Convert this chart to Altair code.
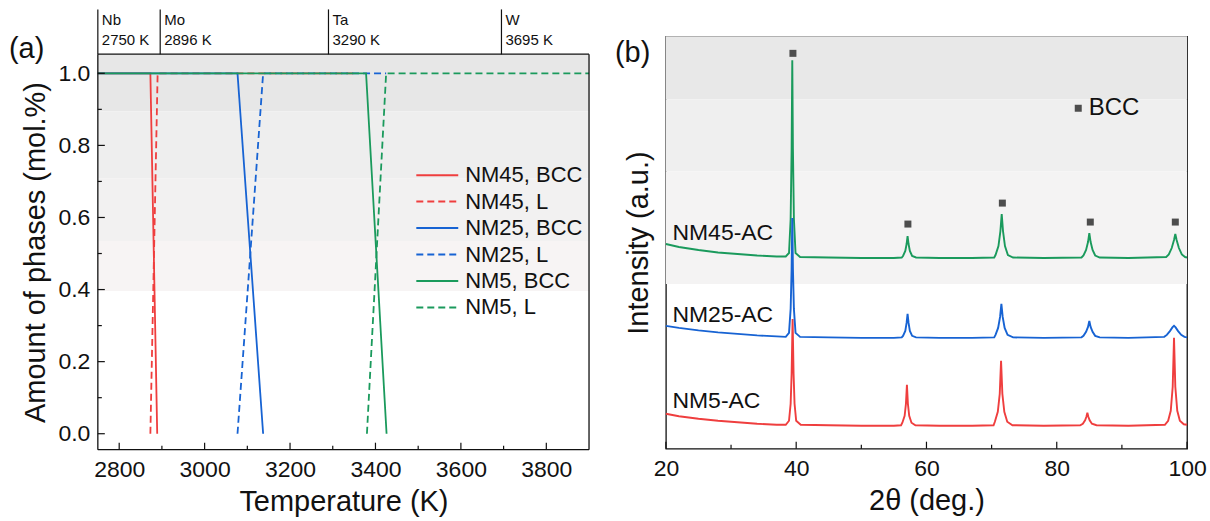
import altair as alt
import pandas as pd

FONT = "Liberation Sans"
BLACK = "#111111"

# ---------------- panel (a): phase fractions ----------------
series_a = ["NM45, BCC", "NM45, L", "NM25, BCC", "NM25, L", "NM5, BCC", "NM5, L"]
colors_a = ["#ef3e3e", "#ef3e3e", "#1763d3", "#1763d3", "#1a9a5c", "#1a9a5c"]
dashes_a = [[1, 0], [7, 4], [1, 0], [7, 4], [1, 0], [7, 4]]

T_nm45_bcc = [2750, 2873, 2889]
P_nm45_bcc = [1.0, 1.0, 0.0]
T_nm45_l = [2873, 2890, 3350]
P_nm45_l = [0.0, 1.0, 1.0]
T_nm25_bcc = [2750, 3077, 3137]
P_nm25_bcc = [1.0, 1.0, 0.0]
T_nm25_l = [3077, 3137, 3425]
P_nm25_l = [0.0, 1.0, 1.0]
T_nm5_bcc = [2750, 3378, 3426]
P_nm5_bcc = [1.0, 1.0, 0.0]
T_nm5_l = [3380, 3425, 3900]
P_nm5_l = [0.0, 1.0, 1.0]

elements = ["Nb", "Mo", "Ta", "W"]
melting_K = [2750, 2896, 3290, 3695]

a_x_major = [2800, 3000, 3200, 3400, 3600, 3800]
a_x_minor = [2900, 3100, 3300, 3500, 3700]
a_y_major = [0.0, 0.2, 0.4, 0.6, 0.8, 1.0]
a_y_minor = [0.1, 0.3, 0.5, 0.7, 0.9]

a_band_top = [1.053, 0.895, 0.709, 0.535]
a_band_bottom = [0.895, 0.709, 0.535, 0.396]
a_band_color = ["#e7e7e7", "#eeeeee", "#f2f1f1", "#f7f4f4"]

# ---------------- panel (b): XRD patterns ----------------
samples_b = ["NM5-AC", "NM45-AC", "NM25-AC"]  # drawing order
colors_b = {"NM45-AC": "#1a9a5c", "NM25-AC": "#1763d3", "NM5-AC": "#ef3e3e"}

theta_nm45 = [20.0, 22.0, 25.0, 28.0, 31.0, 34.0, 37.0, 38.4,
              38.9, 39.15, 39.3, 39.4, 39.5, 39.65, 39.9, 40.6,
              45.0, 50.0, 55.0, 56.2,
              56.4, 56.75, 56.95, 57.1, 57.25, 57.45, 57.8, 58.4,
              62.0, 67.0, 70.4,
              70.6, 71.05, 71.35, 71.55, 71.75, 72.05, 72.5, 73.3,
              78.0, 83.8,
              84.1, 84.5, 84.8, 85.0, 85.2, 85.5, 85.9, 86.6,
              91.0, 96.8,
              97.2, 97.65, 98.0, 98.2, 98.4, 98.75, 99.2, 99.7, 100.0]
int_nm45 = [205, 202, 199, 196.5, 195, 193.5, 192.5, 192.5,
            196, 230, 300, 389, 300, 230, 196, 192,
            191.5, 191, 191, 191.5,
            193, 198, 205, 213, 205, 198, 193, 191.5,
            191, 191, 191.5,
            194, 203, 218, 235, 218, 203, 194, 191.5,
            191, 191.5,
            193.5, 199, 207, 216, 207, 199, 193.5, 191.5,
            191, 192,
            194.5, 201, 209, 215, 209, 201, 194.5, 192, 191.5]

theta_nm25 = [20.0, 22.0, 25.0, 28.0, 31.0, 34.0, 37.0, 38.4,
              38.9, 39.15, 39.3, 39.4, 39.5, 39.65, 39.9, 40.6,
              45.0, 50.0, 55.0, 56.2,
              56.4, 56.75, 56.95, 57.1, 57.25, 57.45, 57.8, 58.4,
              62.0, 67.0, 70.4,
              70.6, 71.0, 71.3, 71.5, 71.7, 72.0, 72.45, 73.3,
              78.0, 83.8,
              84.1, 84.5, 84.8, 85.0, 85.2, 85.5, 85.9, 86.6,
              91.0, 96.5,
              96.9, 97.4, 97.75, 98.0, 98.25, 98.6, 99.1, 99.6, 100.0]
int_nm25 = [123, 121, 118.5, 116.5, 115, 113.5, 112.5, 112,
            116, 140, 180, 231, 180, 140, 116, 112,
            111.5, 111, 111, 111.5,
            113, 118, 126, 135, 126, 118, 113, 111.5,
            111, 111, 111.5,
            114, 121, 132, 145, 132, 121, 114, 111.5,
            111, 111.5,
            113, 117, 122, 128, 122, 117, 113, 111.5,
            111, 112,
            114, 118, 121.5, 123, 121.5, 118, 114, 112, 111.5]

theta_nm5 = [20.0, 22.0, 25.0, 28.0, 31.0, 34.0, 37.0, 38.4,
             38.9, 39.15, 39.3, 39.45, 39.6, 39.75, 40.0, 40.7,
             45.0, 50.0, 55.0, 56.1,
             56.3, 56.65, 56.85, 57.0, 57.15, 57.35, 57.7, 58.3,
             62.0, 67.0, 70.3,
             70.5, 70.95, 71.25, 71.45, 71.65, 71.95, 72.4, 73.2,
             78.0, 83.6,
             84.0, 84.35, 84.55, 84.7, 84.85, 85.05, 85.4, 86.1,
             91.0, 96.6,
             97.1, 97.5, 97.8, 98.0, 98.2, 98.5, 98.9, 99.5, 100.0]
int_nm5 = [35, 32.5, 30, 28, 26.5, 25, 24, 24,
           28, 45, 75, 130, 75, 45, 28, 24,
           23.5, 23, 23, 23.5,
           26, 33, 45, 64, 45, 33, 26, 23.5,
           23, 23, 23.5,
           27, 37, 55, 88, 55, 37, 27, 23.5,
           23, 23.5,
           25, 28.5, 32, 36, 32, 28.5, 25, 23.5,
           23, 24,
           28, 38, 62, 111, 62, 38, 28, 24.5, 24]

bcc_theta = [39.5, 57.15, 71.65, 85.15, 98.2]
bcc_int = [396, 225, 246, 227, 227]

label_names = ["NM45-AC", "NM25-AC", "NM5-AC"]
label_theta = [21.0, 21.0, 21.0]
label_int = [216, 134, 48]

key_theta = [83.3]
key_int = [341]
key_text_theta = [84.9]
key_text = ["BCC"]

b_x_major = [20, 40, 60, 80, 100]
b_x_minor = [30, 50, 70, 90]

b_band_top = [413, 350, 278]
b_band_bottom = [350, 278, 165]
b_band_color = ["#e8e8e8", "#efefef", "#f4f3f3"]

# ---------------- layout sizes ----------------
W_A, H_A = 492, 414
W_B, H_B = 522, 413
A_DOMAIN_Y = [-0.0443, 1.1025]
A_FRAME_TOP = 1.053
MAJ, MIN = 7, 4

# ======== build panel (a) ========
rows = []
for name, T, P in zip(series_a,
                      [T_nm45_bcc, T_nm45_l, T_nm25_bcc, T_nm25_l, T_nm5_bcc, T_nm5_l],
                      [P_nm45_bcc, P_nm45_l, P_nm25_bcc, P_nm25_l, P_nm5_bcc, P_nm5_l]):
    for t, p in zip(T, P):
        rows.append({"series": name, "T": t, "P": p})
df_a = pd.DataFrame(rows)

xs_a = alt.Scale(domain=[2750, 3900], nice=False, zero=False)
ys_a = alt.Scale(domain=A_DOMAIN_Y, nice=False, zero=False)

axis_ax = alt.Axis(values=a_x_major, format="d", title="Temperature (K)", ticks=False, domain=False,
                   grid=False, labelFontSize=23, labelPadding=9, titleFontSize=29, titlePadding=6,
                   labelFlush=False)
axis_ay = alt.Axis(values=a_y_major, format=".1f", title="Amount of phases (mol.%)", ticks=False,
                   domain=False, grid=False, labelFontSize=23, labelPadding=8, titleFontSize=29,
                   titlePadding=7, titleY=216)

leg = alt.Legend(orient="none", legendX=318, legendY=128, title=None, labelFontSize=22,
                 labelFont=FONT, labelColor=BLACK, symbolType="stroke", symbolSize=1764,
                 symbolStrokeWidth=2, labelOffset=6, rowPadding=4.5, padding=0, labelLimit=300,
                 clipHeight=22)


def XA(f):
    return alt.X(f, scale=xs_a, axis=axis_ax)


def YA(f):
    return alt.Y(f, scale=ys_a, axis=axis_ay)


bands_a = pd.DataFrame({"bx": 2750, "bx2": 3900, "by": a_band_bottom, "by2": a_band_top, "c": a_band_color})
band_layer_a = alt.Chart(bands_a).mark_rect().encode(
    x=XA("bx:Q"), x2="bx2:Q", y=YA("by:Q"), y2="by2:Q",
    color=alt.Color("c:N", scale=None))

line_layers_a = []
for name in series_a:
    line_layers_a.append(
        alt.Chart(df_a).transform_filter(alt.datum.series == name).mark_line(strokeWidth=1.8).encode(
            x=XA("T:Q"), y=YA("P:Q"),
            color=alt.Color("series:N", scale=alt.Scale(domain=series_a, range=colors_a), legend=leg),
            strokeDash=alt.StrokeDash("series:N", scale=alt.Scale(domain=series_a, range=dashes_a), legend=leg),
        ))

fb, ft = A_DOMAIN_Y[0], A_FRAME_TOP
frame_df = pd.DataFrame({"fx": [2750, 2750, 2750, 3900], "fx2": [3900, 3900, 2750, 3900],
                         "fy": [ft, fb, fb, fb], "fy2": [ft, fb, ft, ft]})
frame_a = alt.Chart(frame_df).mark_rule(color=BLACK, strokeWidth=1.3).encode(
    x=XA("fx:Q"), x2="fx2:Q", y=YA("fy:Q"), y2="fy2:Q")

a_xticks_major = alt.Chart(pd.DataFrame({"T": a_x_major})).mark_rule(color=BLACK, strokeWidth=1.2).encode(
    x=XA("T:Q"), y=alt.value(H_A), y2=alt.value(H_A - MAJ))
a_xticks_minor = alt.Chart(pd.DataFrame({"T": a_x_minor})).mark_rule(color=BLACK, strokeWidth=1.2).encode(
    x=XA("T:Q"), y=alt.value(H_A), y2=alt.value(H_A - MIN))
a_yticks_major = alt.Chart(pd.DataFrame({"P": a_y_major})).mark_rule(color=BLACK, strokeWidth=1.2).encode(
    y=YA("P:Q"), x=alt.value(0), x2=alt.value(MAJ))
a_yticks_minor = alt.Chart(pd.DataFrame({"P": a_y_minor})).mark_rule(color=BLACK, strokeWidth=1.2).encode(
    y=YA("P:Q"), x=alt.value(0), x2=alt.value(MIN))

el_df = pd.DataFrame({"T": melting_K, "name": elements, "lab": [f"{k} K" for k in melting_K]})
el_rules = alt.Chart(el_df).mark_rule(color=BLACK, strokeWidth=1.2).encode(
    x=XA("T:Q"), y=alt.value(18), y2=alt.value(-27))
el_names = alt.Chart(el_df).mark_text(align="left", baseline="middle", fontSize=15, dx=4, color=BLACK).encode(
    x=XA("T:Q"), y=alt.value(-16), text="name:N")
el_temps = alt.Chart(el_df).mark_text(align="left", baseline="middle", fontSize=15, dx=4, color=BLACK).encode(
    x=XA("T:Q"), y=alt.value(4), text="lab:N")

tag_a = alt.Chart(pd.DataFrame({"t": ["(a)"]})).mark_text(
    align="left", baseline="middle", fontSize=29, color=BLACK).encode(
    x=alt.value(-89), y=alt.value(13), text="t:N")

anchor_a = alt.Chart(pd.DataFrame({"t": [0]})).mark_rect(color="white").encode(
    x=alt.value(-97), x2=alt.value(-96), y=alt.value(-35), y2=alt.value(-34))

panel_a = alt.layer(
    band_layer_a, *line_layers_a, frame_a,
    a_xticks_major, a_xticks_minor, a_yticks_major, a_yticks_minor,
    el_rules, el_names, el_temps, tag_a, anchor_a,
).properties(width=W_A, height=H_A, view=alt.ViewBackground(stroke="transparent"))

# ======== build panel (b) ========
curves = {"NM45-AC": (theta_nm45, int_nm45), "NM25-AC": (theta_nm25, int_nm25), "NM5-AC": (theta_nm5, int_nm5)}
rows = []
for name, (th, it) in curves.items():
    for t, i in zip(th, it):
        rows.append({"sample": name, "theta": t, "I": i})
df_b = pd.DataFrame(rows)

xs_b = alt.Scale(domain=[20, 100], nice=False, zero=False)
ys_b = alt.Scale(domain=[0, H_B], nice=False, zero=False)

axis_bx = alt.Axis(values=b_x_major, format="d", title="2θ (deg.)", ticks=False, domain=False, grid=False,
                   labelFontSize=23, labelPadding=9, titleFontSize=29, titlePadding=6, labelFlush=False)
axis_by = alt.Axis(labels=False, ticks=False, domain=False, grid=False, title="Intensity (a.u.)",
                   titleFontSize=29, titlePadding=12)


def XB(f):
    return alt.X(f, scale=xs_b, axis=axis_bx)


def YB(f):
    return alt.Y(f, scale=ys_b, axis=axis_by)


bands_b = pd.DataFrame({"bx": 20, "bx2": 100, "by": b_band_bottom, "by2": b_band_top, "c": b_band_color})
band_layer_b = alt.Chart(bands_b).mark_rect().encode(
    x=XB("bx:Q"), x2="bx2:Q", y=YB("by:Q"), y2="by2:Q",
    color=alt.Color("c:N", scale=None))

line_layers_b = []
for name in samples_b:
    line_layers_b.append(
        alt.Chart(df_b).transform_filter(alt.datum.sample == name).mark_line(
            strokeWidth=1.9, color=colors_b[name]).encode(
            x=XB("theta:Q"), y=YB("I:Q")))

markers = alt.Chart(pd.DataFrame({"theta": bcc_theta, "I": bcc_int})).mark_square(
    size=49, color="#4d4d4d", opacity=1).encode(x=XB("theta:Q"), y=YB("I:Q"))
key_mark = alt.Chart(pd.DataFrame({"theta": key_theta, "I": key_int})).mark_square(
    size=49, color="#4d4d4d", opacity=1).encode(x=XB("theta:Q"), y=YB("I:Q"))
key_lab = alt.Chart(pd.DataFrame({"theta": key_text_theta, "I": key_int, "t": key_text})).mark_text(
    align="left", baseline="middle", fontSize=24, color=BLACK).encode(
    x=XB("theta:Q"), y=YB("I:Q"), text="t:N")
sample_labels = alt.Chart(pd.DataFrame({"theta": label_theta, "I": label_int, "t": label_names})).mark_text(
    align="left", baseline="middle", fontSize=23, color=BLACK).encode(
    x=XB("theta:Q"), y=YB("I:Q"), text="t:N")

b_xticks_major = alt.Chart(pd.DataFrame({"theta": b_x_major})).mark_rule(color=BLACK, strokeWidth=1.2).encode(
    x=XB("theta:Q"), y=alt.value(H_B), y2=alt.value(H_B - MAJ))
b_xticks_minor = alt.Chart(pd.DataFrame({"theta": b_x_minor})).mark_rule(color=BLACK, strokeWidth=1.2).encode(
    x=XB("theta:Q"), y=alt.value(H_B), y2=alt.value(H_B - MIN))

tag_b = alt.Chart(pd.DataFrame({"t": ["(b)"]})).mark_text(
    align="left", baseline="middle", fontSize=29, color=BLACK).encode(
    x=alt.value(-51), y=alt.value(17), text="t:N")

anchor_b = alt.Chart(pd.DataFrame({"t": [0]})).mark_rect(color="white").encode(
    x=alt.value(1210 - 666 - 1), x2=alt.value(1210 - 666), y=alt.value(521 - 35 - 1), y2=alt.value(521 - 35))

panel_b = alt.layer(
    band_layer_b, *line_layers_b, markers, key_mark, key_lab, sample_labels,
    b_xticks_major, b_xticks_minor, tag_b, anchor_b,
).properties(width=W_B, height=H_B, view=alt.ViewBackground(stroke=BLACK, strokeWidth=1.3))

chart = alt.hconcat(panel_a, panel_b, spacing=77, bounds="flush").properties(
    padding=0, background="white"
).configure(font=FONT).configure_axis(
    labelFont=FONT, titleFont=FONT, labelColor=BLACK, titleColor=BLACK, titleFontWeight="normal"
).configure_text(font=FONT).configure_legend(labelFont=FONT)

chart.save("out.html", embed_options={"renderer": "svg", "actions": False})
